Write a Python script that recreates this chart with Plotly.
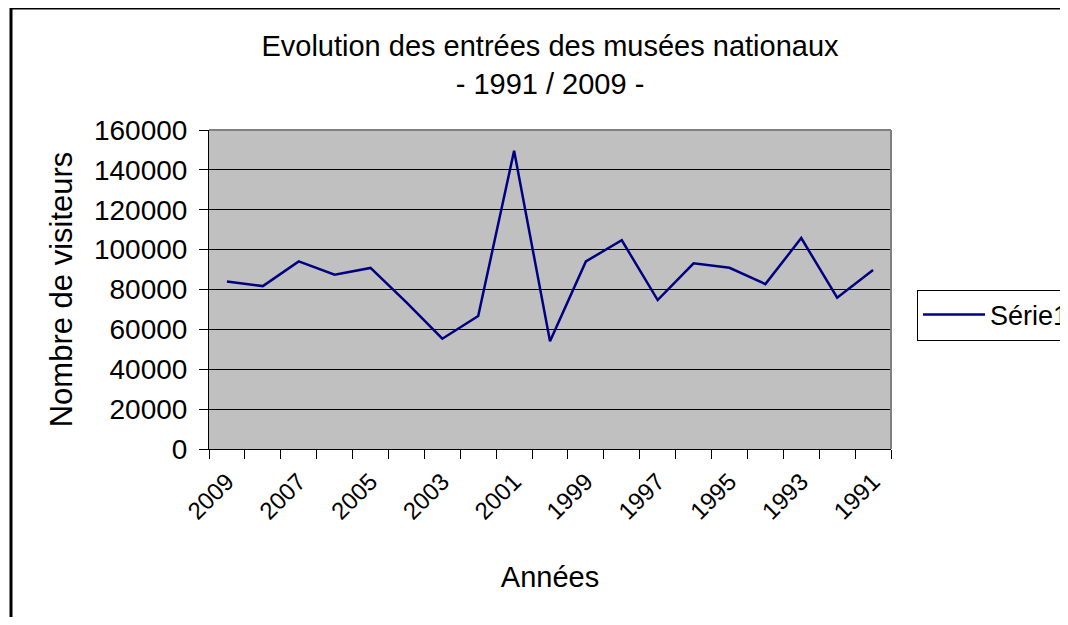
import plotly.graph_objects as go

years = [str(y) for y in range(2009, 1990, -1)]
visitors = [84000, 81700, 94100, 87400, 90800, 73500, 55300, 66700, 149600, 54000,
            94100, 104700, 74700, 93100, 90900, 82700, 105800, 75900, 89800]
y_ticks = [0, 20000, 40000, 60000, 80000, 100000, 120000, 140000, 160000]
y_tick_text = [str(v) for v in y_ticks]
label_years = years[::2]

FONT = "Liberation Sans, Arial, sans-serif"
OFF = 8  # page body margin

fig = go.Figure()
fig.add_trace(go.Scatter(x=years, y=visitors, mode="lines", name="Série1",
                         line=dict(color="#000080", width=2.5)))
fig.add_trace(go.Scatter(x=years, y=visitors, mode="lines", xaxis="x2",
                         line=dict(color="rgba(0,0,0,0)", width=0),
                         showlegend=False, hoverinfo="skip"))

W, H = 1060, 609
L, T = 209 - OFF, 130 - OFF
R, B = W - (891 - OFF), H - (449 - OFF)
pw, ph = W - L - R, H - T - B

def px_x(x):  # screen x -> paper
    return (x - OFF - L) / pw

def px_y(y):  # screen y -> paper
    return (H - B - (y - OFF)) / ph

fig.update_layout(
    width=W, height=H,
    margin=dict(l=L, r=R, t=T, b=B, autoexpand=False),
    paper_bgcolor="white", plot_bgcolor="#C0C0C0",
    font=dict(family=FONT, color="black", size=26),
    title=dict(text="Evolution des entrées des musées nationaux<br>- 1991 / 2009 -",
               x=0.5, xref="paper", xanchor="center",
               y=1 - 48 / H, yref="container", yanchor="top",
               font=dict(size=29, family=FONT)),
    xaxis=dict(type="category", categoryorder="array", categoryarray=years,
               range=[-0.5, 18.5], tickson="boundaries", ticks="outside",
               ticklen=9, tickcolor="black", tickwidth=1,
               showticklabels=False, showline=True, linecolor="black",
               linewidth=1, showgrid=False, zeroline=False, fixedrange=True),
    xaxis2=dict(type="category", categoryorder="array", categoryarray=years,
                range=[-0.5, 18.5], overlaying="x", side="bottom", anchor="y",
                tickvals=label_years, tickangle=-45, ticks="outside", ticklen=8,
                tickcolor="rgba(0,0,0,0)", showline=False, showgrid=False,
                zeroline=False, tickfont=dict(size=24),
                title=dict(text="Années", font=dict(size=29), standoff=43)),
    yaxis=dict(range=[0, 160000], tickvals=y_ticks, ticktext=y_tick_text,
               ticks="outside", ticklen=9, ticklabelstandoff=6,
               tickcolor="black", showline=True, linecolor="black", linewidth=1,
               showgrid=True, gridcolor="black", gridwidth=1, zeroline=False,
               tickfont=dict(size=28),
               title=dict(text="Nombre de visiteurs", font=dict(size=31), standoff=12)),
    legend=dict(x=px_x(917), xanchor="left", y=px_y(315), yanchor="middle",
                bgcolor="white", bordercolor="black", borderwidth=1,
                itemwidth=62, font=dict(size=27)),
    showlegend=True,
)

# plot-area border (top & right, grey)
fig.add_shape(type="line", xref="paper", yref="paper", x0=0, x1=1, y0=1, y1=1,
              line=dict(color="#808080", width=2))
fig.add_shape(type="line", xref="paper", yref="paper", x0=1, x1=1, y0=0, y1=1,
              line=dict(color="#808080", width=2))
# outer chart frame (left and top edges; the rest lies outside the view)
fig.add_shape(type="line", xref="paper", yref="paper",
              x0=px_x(11), x1=px_x(11), y0=px_y(H + 60), y1=px_y(8),
              line=dict(color="black", width=3))
fig.add_shape(type="line", xref="paper", yref="paper",
              x0=px_x(11), x1=px_x(W + 60), y0=px_y(8), y1=px_y(8),
              line=dict(color="black", width=3))

fig.write_html("out.html")
